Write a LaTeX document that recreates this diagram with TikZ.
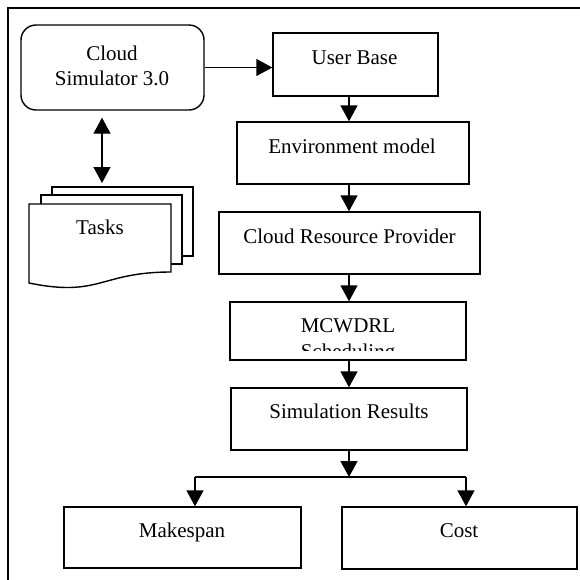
\documentclass[tikz,border=0pt]{standalone}
\usepackage{fontspec}
\setmainfont{Liberation Serif}
\usetikzlibrary{arrows.meta}
\begin{document}
\begin{tikzpicture}[x=1pt,y=-1pt,
  line width=1.4pt,
  box/.style={draw, line width=1.4pt, inner sep=0pt, fill=white},
  lbl/.style={anchor=base, inner sep=0pt, font=\fontsize{21}{25}\selectfont},
  mlbl/.style={align=center, inner sep=0pt},
  arr/.style={-{Triangle[width=17pt,length=16pt]}, line width=1.4pt},
  darr/.style={{Triangle[width=17pt,length=16pt]}-{Triangle[width=17pt,length=16pt]}, line width=1.4pt},
  docpage/.style={draw, fill=white, line width=1.4pt}]
\useasboundingbox (0,0) rectangle (580,579);
% outer frame (cropped)
\draw[line width=1.5pt] (8,580) -- (8,8) -- (581,8);

% tasks: stacked documents
\draw[docpage] (52,187) rectangle (193,256);
\draw[docpage] (41,195) rectangle (182,264);
\draw[docpage] (29,204) -- (171,204) -- (171,272) .. controls (100,272) and (100,297.6) .. (29,283) -- cycle;
\node[lbl] (tasks) at (100,234) {Tasks};
\coordinate (tasktop) at (102,187);

% boxes
\node[box, rounded corners=15pt, minimum width=183pt, minimum height=85pt] (cs) at (112.5,67.5) {};
\node[mlbl, font=\fontsize{21}{25}\selectfont] at (112,65.4) {Cloud\\Simulator 3.0};

\node[box, minimum width=165pt, minimum height=63pt] (ub) at (355.5,64.5) {};
\node[lbl] at (354.5,64) {User Base};

\node[box, minimum width=232pt, minimum height=62pt] (env) at (353,153) {};
\node[lbl] at (352,153) {Environment model};

\node[box, minimum width=261pt, minimum height=62pt] (crp) at (349.5,243) {};
\node[lbl] at (349.5,243) {Cloud Resource Provider};

\node[box, minimum width=236pt, minimum height=58pt] (mc) at (348,331) {};
\begin{scope}
  \clip (mc.north west) rectangle ([yshift=10pt]mc.south east);
  \node[mlbl, font=\fontsize{21}{26}\selectfont] at (348,340.4) {MCWDRL\\Scheduling};
\end{scope}

\node[box, minimum width=236pt, minimum height=62pt] (sr) at (349,419) {};
\node[lbl] at (349,418) {Simulation Results};

\node[box, minimum width=237pt, minimum height=61pt] (mk) at (182.5,537.5) {};
\node[lbl] at (182,537) {Makespan};

\node[box, minimum width=235pt, minimum height=62pt] (cost) at (459.5,538) {};
\node[lbl] at (459,537) {Cost};

% connectors
\coordinate (col) at (349,0);
\draw[arr] (cs.east) -- (cs.east -| ub.west);
\draw[darr, shorten <=7pt, shorten >=4pt] (cs.south -| tasktop) -- (tasktop);
\draw[arr] (ub.south -| col) -- (env.north -| col);
\draw[arr] (env.south -| col) -- (crp.north -| col);
\draw[arr] (crp.south -| col) -- (mc.north -| col);
\draw[arr] (mc.south -| col) -- (sr.north -| col);
\coordinate (jm) at (349,477);
\coordinate (jl) at (195,477);
\coordinate (jr) at (466,477);
\draw[arr] (sr.south -| col) -- (jm);
\draw (jl) -- (jr);
\draw[arr] (jl) -- (jl |- mk.north);
\draw[arr] (jr) -- (jr |- cost.north);
\end{tikzpicture}
\end{document}
